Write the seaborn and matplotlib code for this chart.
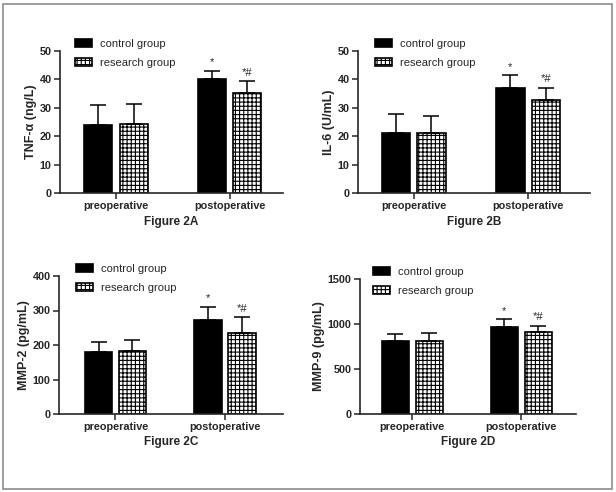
import matplotlib
matplotlib.use("Agg")
import numpy as np
import pandas as pd
import matplotlib.pyplot as plt
import seaborn as sns
from matplotlib.patches import Rectangle

periods = ["preoperative", "postoperative"]
groups = ["control group", "research group"]

tnf_control = [23.9, 40.0]
tnf_control_sd = [7.1, 3.1]
tnf_research = [24.2, 35.3]
tnf_research_sd = [7.1, 4.0]

il6_control = [21.3, 37.1]
il6_control_sd = [6.5, 4.3]
il6_research = [21.3, 32.9]
il6_research_sd = [5.9, 4.2]

mmp2_control = [179, 272]
mmp2_control_sd = [30, 38]
mmp2_research = [182, 235]
mmp2_research_sd = [33, 46]

mmp9_control = [811, 968]
mmp9_control_sd = [75, 85]
mmp9_research = [811, 912]
mmp9_research_sd = [89, 67]

post_marks = ["*", "*#"]

W, H = 616, 492

sns.set_style("ticks")
plt.rcParams["font.family"] = ["Liberation Sans", "DejaVu Sans"]
plt.rcParams["hatch.linewidth"] = 0.8
plt.rcParams["hatch.color"] = "#5a5a5a"

panels = [
    dict(name="Figure 2A", ylabel="TNF-\u03b1 (ng/L)", yticks=[0, 10, 20, 30, 40, 50],
         control=tnf_control, control_sd=tnf_control_sd,
         research=tnf_research, research_sd=tnf_research_sd,
         rect=(60, 51, 283, 193), xlim=(-0.493, 1.47), leg_dx=15),
    dict(name="Figure 2B", ylabel="IL-6 (U/mL)", yticks=[0, 10, 20, 30, 40, 50],
         control=il6_control, control_sd=il6_control_sd,
         research=il6_research, research_sd=il6_research_sd,
         rect=(358, 51, 590, 193), xlim=(-0.485, 1.54), leg_dx=17),
    dict(name="Figure 2C", ylabel="MMP-2 (pg/mL)", yticks=[0, 100, 200, 300, 400],
         control=mmp2_control, control_sd=mmp2_control_sd,
         research=mmp2_research, research_sd=mmp2_research_sd,
         rect=(59, 276, 283, 414), xlim=(-0.516, 1.53), leg_dx=17),
    dict(name="Figure 2D", ylabel="MMP-9 (pg/mL)", yticks=[0, 500, 1000, 1500],
         control=mmp9_control, control_sd=mmp9_control_sd,
         research=mmp9_research, research_sd=mmp9_research_sd,
         rect=(360, 279, 576, 414), xlim=(-0.477, 1.5), leg_dx=13),
]

fig = plt.figure(figsize=(W / 100, H / 100), dpi=100)
fig.patch.set_facecolor("white")

for p in panels:
    l, t, r, b = p["rect"]
    ax = fig.add_axes([l / W, 1 - b / H, (r - l) / W, (b - t) / H])

    df = pd.DataFrame({
        "period": periods * 2,
        "group": [groups[0]] * 2 + [groups[1]] * 2,
        "value": p["control"] + p["research"],
        "sd": p["control_sd"] + p["research_sd"],
    })

    sns.barplot(data=df, x="period", y="value", hue="group", order=periods,
                hue_order=groups, palette={groups[0]: "black", groups[1]: "white"},
                errorbar=None, width=0.62, gap=0.2, edgecolor="black",
                linewidth=1.2, ax=ax)

    bar_sets = list(ax.containers)
    for i, cont in enumerate(bar_sets):
        sub = df[df["group"] == groups[i]]
        xs = [bar.get_x() + bar.get_width() / 2 for bar in cont]
        ys = sub["value"].to_numpy()
        sds = sub["sd"].to_numpy()
        if i == 1:
            for bar in cont:
                bar.set_hatch("++++")
        ax.errorbar(xs, ys, yerr=[np.zeros_like(sds), sds], fmt="none",
                    ecolor="black", elinewidth=1.1, capsize=5.5, capthick=1.1,
                    zorder=1)
        ax.annotate(post_marks[i], (xs[1], ys[1] + sds[1]), xytext=(0, 2.5),
                    textcoords="offset points", ha="center", va="bottom",
                    fontsize=8)

    handles, labels = ax.get_legend_handles_labels()
    handles[1].set_hatch("++++")
    ax.legend(handles, labels, loc="upper left", frameon=False,
              bbox_to_anchor=((l + p["leg_dx"]) / W, 1 - (t - 12) / H),
              bbox_transform=fig.transFigure, borderpad=0, borderaxespad=0,
              fontsize=8, handlelength=1.53, handleheight=0.65,
              handletextpad=0.72, labelspacing=0.8)

    ax.set_ylim(p["yticks"][0], p["yticks"][-1])
    ax.set_yticks(p["yticks"])
    ax.set_xlim(*p["xlim"])
    ax.set_ylabel(p["ylabel"], fontsize=9, fontweight="bold", labelpad=2)
    ax.set_xlabel(p["name"], fontsize=8.5, fontweight="bold", labelpad=3)
    ax.tick_params(axis="both", width=1.1, length=4, labelsize=7.8, pad=2)
    for lab in ax.get_xticklabels() + ax.get_yticklabels():
        lab.set_fontweight("bold")
    sns.despine(ax=ax)
    for s in ["left", "bottom"]:
        ax.spines[s].set_linewidth(1.2)

fig.patches.append(Rectangle((3 / W, 1 - 489 / H), 609 / W, 485 / H,
                             transform=fig.transFigure, fill=False,
                             edgecolor="#8c8c8c", linewidth=1.2))

fig.savefig("out.png", dpi=100)
